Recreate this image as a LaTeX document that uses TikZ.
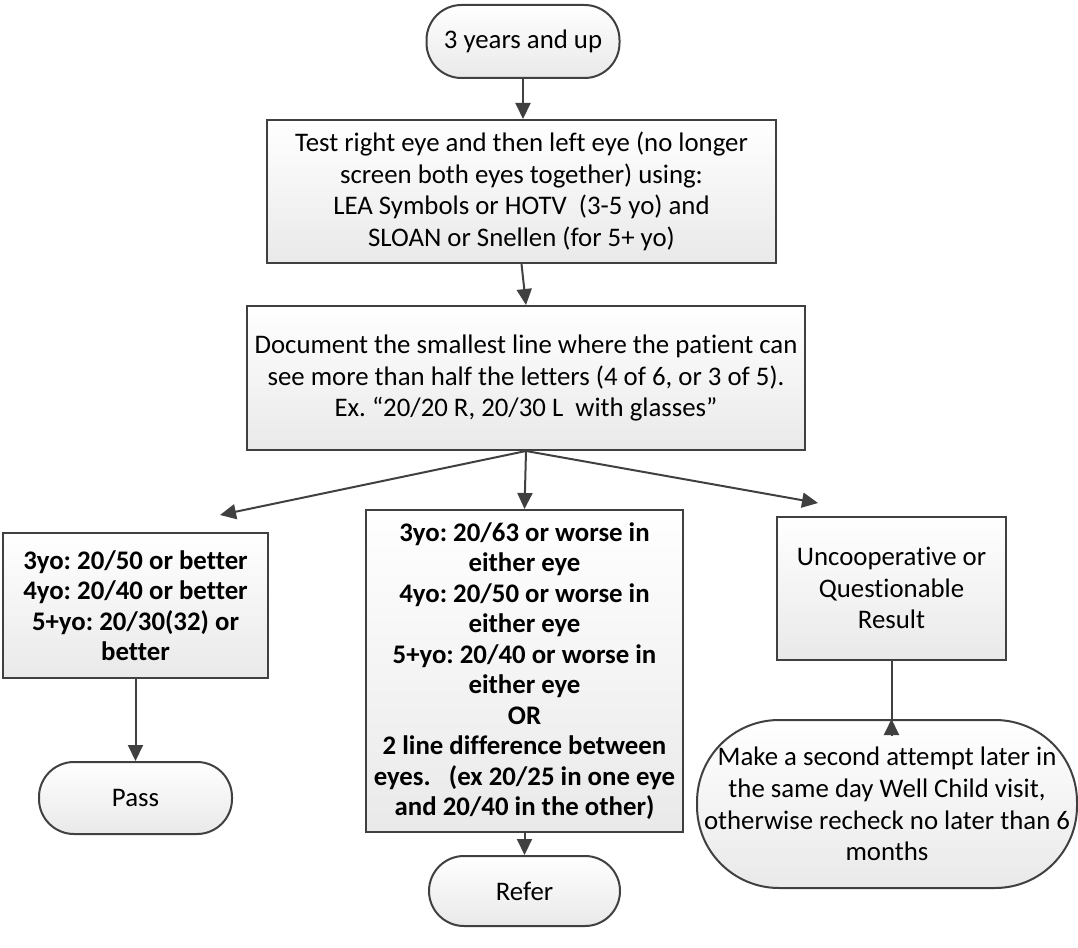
\documentclass[tikz,border=0pt]{standalone}
\usepackage{fontspec}
\setmainfont{Carlito}[Ligatures=NoCommon]
\usepackage{tikz}
\usetikzlibrary{arrows.meta}
\definecolor{edgegray}{RGB}{64,64,64}
\definecolor{fillgray}{RGB}{233,233,233}
\frenchspacing

\begin{document}
\begin{tikzpicture}[x=1pt, y=-1pt,
  box/.style={draw=edgegray, line width=2pt, top color=white, bottom color=fillgray,
              align=center, inner sep=0pt, font=\fontsize{26.8}{31.7}\selectfont},
  term/.style={box, rounded corners=#1},
  term/.default=35pt,
  strong/.style={font=\fontsize{26.8}{30.5}\selectfont\bfseries},
  arr/.style={-{Triangle[length=16pt,width=15pt]}, line width=2pt, draw=edgegray},
  link/.style={line width=2pt, draw=edgegray}
]
  \useasboundingbox (0,0) rectangle (1078,947);

  \node[term, minimum width=193pt, minimum height=73pt] (start) at (523,41.5) {3 years and up};
  \node[box, minimum width=509pt, minimum height=143pt] (test) at (521.5,191.5)
    {Test right eye and then left eye (no longer\\
     screen both eyes together) using:\\
     LEA Symbols or HOTV\ \ (3-5 yo) and\\
     SLOAN or Snellen (for 5+ yo)};
  \node[box, minimum width=558pt, minimum height=144pt] (doc) at (526,378)
    {Document the smallest line where the patient can\\
     see more than half the letters (4 of 6, or 3 of 5).\\
     Ex. “20/20 R, 20/30 L\ \ with glasses”};

  % three outcomes
  \node[box, strong, minimum width=265pt, minimum height=145pt] (pass box) at (135.5,605.5)
    {3yo: 20/50 or better\\
     4yo: 20/40 or better\\
     5+yo: 20/30(32) or\\
     better};
  \node[box, strong, minimum width=317pt, minimum height=322pt] (refer box) at (524.5,671)
    {3yo: 20/63 or worse in\\
     either eye\\
     4yo: 20/50 or worse in\\
     either eye\\
     5+yo: 20/40 or worse in\\
     either eye\\
     OR\\
     2 line difference between\\
     eyes.\ \ \ (ex 20/25 in one eye\\
     and 20/40 in the other)};
  \node[box, minimum width=229pt, minimum height=143pt] (unsure) at (891.5,588)
    {Uncooperative or\\ Questionable\\ Result};

  \node[term, minimum width=193pt, minimum height=72pt] (pass) at (135.5,798) {Pass};
  \node[term, minimum width=191pt, minimum height=70pt] (refer) at (524.5,891) {Refer};
  \node[term=82pt, minimum width=380pt, minimum height=168pt] (retry) at (887,804)
    {Make a second attempt later in\\
     the same day Well Child visit,\\
     otherwise recheck no later than 6\\
     months};

  \coordinate (to pass) at (220,515);
  \coordinate (to unsure) at (818,503);

  \draw[arr] (start) -- (start |- test.north);
  \draw[arr] (test.south) -- (doc.north);
  \draw[arr] (doc.south) -- (to pass);
  \draw[arr] (doc.south) -- (refer box.north);
  \draw[arr] (doc.south) -- (to unsure);
  \draw[arr] (pass box.south) -- (pass.north);
  \draw[arr] (refer box.south) -- (refer.north);
  \draw[link] (unsure.south) -- (unsure.south |- retry.north);
  \coordinate (tip base) at ([yshift=-17pt]unsure.south |- retry.north);
  \draw[arr] (tip base) -- (unsure.south |- retry.north);
\end{tikzpicture}
\end{document}
